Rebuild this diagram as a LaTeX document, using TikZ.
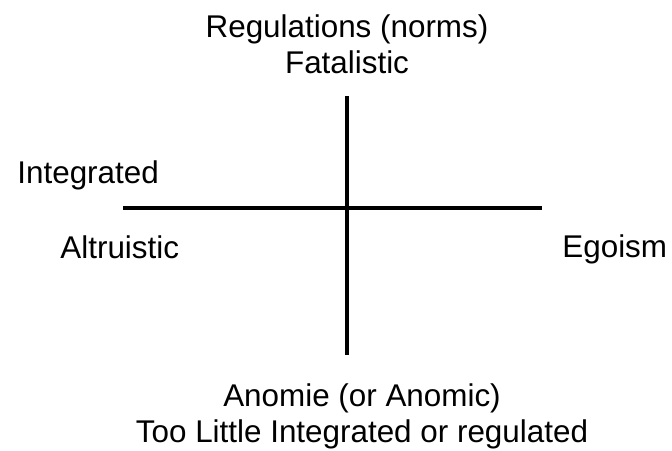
\documentclass[tikz,border=0pt]{standalone}
\usepackage{fontspec}
\setmainfont{Liberation Sans}
\usetikzlibrary{positioning}

\begin{document}
\begin{tikzpicture}[
    x=0.5pt, y=-0.5pt,
    label/.style={inner sep=0pt, font=\fontsize{15.7}{18}\selectfont, align=center},
    axis/.style={line width=1.8pt, draw=black}
]
    \useasboundingbox (0,0) rectangle (672,450);

    % axes
    \coordinate (north) at (347,96);
    \coordinate (south) at (347,355);
    \coordinate (west) at (123,208);
    \coordinate (east) at (542,208);
    \draw[axis] (north) -- (south);
    \draw[axis] (west) -- (east);

    % labels
    \node[label, anchor=base] (regul) at (347,73) {Regulations (norms)\\Fatalistic};
    \node[label, anchor=base west] (integ) at (17,183) {Integrated};
    \node[label, anchor=base west] (altru) at (60,258) {Altruistic};
    \node[label, anchor=base west] (egoism) at (562,257) {Egoism};
    \node[label, anchor=base] (anomie) at (362,442) {Anomie (or Anomic)\\Too Little Integrated or regulated};
\end{tikzpicture}
\end{document}
